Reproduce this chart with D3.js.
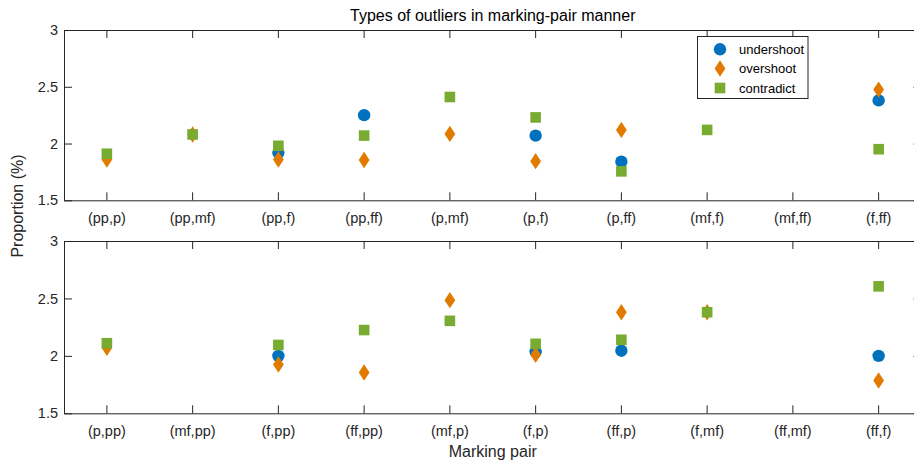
<!DOCTYPE html>
<html>
<head>
<meta charset="utf-8">
<script src="https://cdn.jsdelivr.net/npm/d3@7"></script>
<style>
  html, body { margin: 0; padding: 0; background: #fff; }
  svg { display: block; font-family: "Liberation Sans", Arial, Helvetica, sans-serif; }
</style>
</head>
<body>
<svg id="chart" width="914" height="461"></svg>
<script>
// Marking-pair categories for each panel
const categoriesTop = ["(pp,p)", "(pp,mf)", "(pp,f)", "(pp,ff)", "(p,mf)", "(p,f)", "(p,ff)", "(mf,f)", "(mf,ff)", "(f,ff)"];
const categoriesBottom = ["(p,pp)", "(mf,pp)", "(f,pp)", "(ff,pp)", "(mf,p)", "(f,p)", "(ff,p)", "(f,mf)", "(ff,mf)", "(ff,f)"];

// Proportions (%) per outlier type; null = no outliers of that type
const undershootTop = [null, null, 1.92, 2.25, null, 2.07, 1.84, null, null, 2.38];
const overshootTop  = [1.86, 2.08, 1.86, 1.855, 2.085, 1.845, 2.12, null, null, 2.475];
const contradictTop = [1.91, 2.08, 1.98, 2.07, 2.41, 2.23, 1.755, 2.12, null, 1.95];

const undershootBottom = [null, null, 2.0, null, null, 2.035, 2.045, null, null, 2.0];
const overshootBottom  = [2.07, null, 1.925, 1.855, 2.485, 2.01, 2.38, 2.38, null, 1.785];
const contradictBottom = [2.11, null, 2.095, 2.225, 2.305, 2.105, 2.14, 2.38, null, 2.605];

const yTicks = [1.5, 2, 2.5, 3];
const seriesNames = ["undershoot", "overshoot", "contradict"];
const seriesColors = ["#0072BD", "#E07B00", "#77AC30"];

const svg = d3.select("#chart");
const axisColor = "#262626";
const left = 64, right = 921.5;

// Marker shapes
function drawMarker(g, type, x, y, color) {
  if (type === 0) {
    g.append("circle").attr("cx", x).attr("cy", y).attr("r", 6.2).attr("fill", color);
  } else if (type === 1) {
    g.append("path")
      .attr("d", `M${x},${y - 8.2}L${x + 5.4},${y}L${x},${y + 8.2}L${x - 5.4},${y}Z`)
      .attr("fill", color);
  } else {
    g.append("rect").attr("x", x - 5.3).attr("y", y - 5.3)
      .attr("width", 10.6).attr("height", 10.6).attr("fill", color);
  }
}

function panel(cats, series, top, bottom) {
  const x = d3.scaleBand().domain(cats).range([left, right]).padding(0);
  const y = d3.scaleLinear().domain([1.5, 3]).range([bottom, top]);
  const g = svg.append("g");
  const cx = c => x(c) + x.bandwidth() / 2;

  // Axes: ticks point inward, box on
  const styleAxis = sel => {
    sel.select(".domain").attr("stroke", axisColor).attr("stroke-width", 1);
    sel.selectAll(".tick line").attr("stroke", axisColor).attr("stroke-width", 1);
    sel.selectAll(".tick text").attr("fill", axisColor).style("font-size", "14.5px")
      .style("font-family", "'Liberation Sans', Arial, sans-serif");
  };

  g.append("g").attr("transform", `translate(0,${bottom})`)
    .call(d3.axisBottom(x).tickSize(-8).tickPadding(12).tickSizeOuter(0))
    .call(styleAxis);
  g.append("g").attr("transform", `translate(0,${top})`)
    .call(d3.axisTop(x).tickSize(-8).tickFormat("").tickSizeOuter(0))
    .call(styleAxis);
  g.append("g").attr("transform", `translate(${left},0)`)
    .call(d3.axisLeft(y).tickValues(yTicks).tickFormat(d3.format("")).tickSize(-8).tickPadding(6).tickSizeOuter(0))
    .call(styleAxis);
  g.append("g").attr("transform", `translate(${right},0)`)
    .call(d3.axisRight(y).tickValues(yTicks).tickFormat("").tickSize(-8).tickSizeOuter(0))
    .call(styleAxis);

  // Data markers, drawn in series order
  series.forEach((vals, si) => {
    const sg = g.append("g");
    vals.forEach((v, i) => {
      if (v === null) return;
      drawMarker(sg, si, cx(cats[i]), y(v), seriesColors[si]);
    });
  });
  return g;
}

panel(categoriesTop, [undershootTop, overshootTop, contradictTop], 30, 200.3);
panel(categoriesBottom, [undershootBottom, overshootBottom, contradictBottom], 241, 413.3);

// Title and axis labels
const midX = (left + right) / 2;
svg.append("text").attr("x", midX).attr("y", 20.7).attr("text-anchor", "middle")
  .attr("fill", "#000").style("font-size", "16px").text("Types of outliers in marking-pair manner");
svg.append("text").attr("x", midX).attr("y", 456.5).attr("text-anchor", "middle")
  .attr("fill", axisColor).style("font-size", "16px").text("Marking pair");
svg.append("text").attr("transform", "translate(23,206) rotate(-90)").attr("text-anchor", "middle")
  .attr("fill", axisColor).style("font-size", "16px").text("Proportion (%)");

// Legend
const lg = svg.append("g");
lg.append("rect").attr("x", 697.5).attr("y", 36.5).attr("width", 110.5).attr("height", 62)
  .attr("fill", "#fff").attr("stroke", axisColor).attr("stroke-width", 1);
const rows = [49.3, 68.5, 88];
seriesNames.forEach((name, i) => {
  drawMarker(lg, i, 720, rows[i], seriesColors[i]);
  lg.append("text").attr("x", 739).attr("y", rows[i]).attr("dy", "0.35em")
    .attr("fill", "#000").style("font-size", "13px").text(name);
});
</script>
</body>
</html>
